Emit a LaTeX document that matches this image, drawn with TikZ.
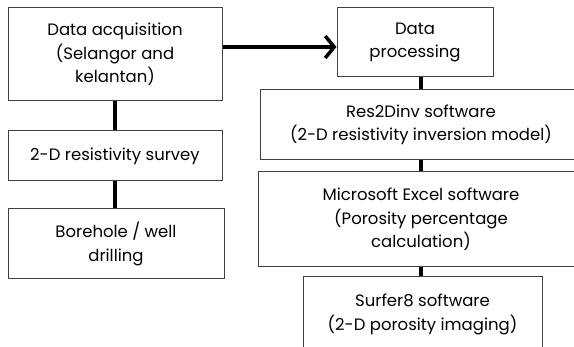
\documentclass[tikz,border=0pt]{standalone}
\usepackage{fontspec}
\setmainfont{Poppins}
\usetikzlibrary{arrows.meta}

\tikzset{
  box/.style={draw=black!75, line width=1pt, align=center, inner sep=0pt,
    font=\fontsize{16.5}{23.5}\selectfont},
  link/.style={line width=3.5pt},
}

\begin{document}
\begin{tikzpicture}[x=1pt,y=-1pt]
  \useasboundingbox (0,0) rectangle (574,347);
  \clip (0,0) rectangle (574,347);
  % left column
  \node[box,minimum width=214,minimum height=93] (acq) at (115,54.5)
    {Data acquisition\\(Selangor and\\kelantan)};
  \node[box,minimum width=214,minimum height=50] (survey) at (115,156)
    {2-D resistivity survey};
  \node[box,minimum width=216,minimum height=70] (bore) at (116,244)
    {Borehole / well\\drilling};
  % right column
  \node[box,minimum width=156,minimum height=69] (proc) at (415,42.5)
    {Data\\processing};
  \node[box,minimum width=322,minimum height=70] (res) at (421,125)
    {Res2Dinv software\\(2-D resistivity inversion model)};
  \node[box,minimum width=326,minimum height=95] (excel) at (421,219.5)
    {Microsoft Excel software\\(Porosity percentage\\calculation)};
  \node[box,minimum width=239,minimum height=75] (surf) at (422.5,314.5)
    {Surfer8 software\\(2-D porosity imaging)};
  % links
  \coordinate (arr) at (0,47);
  \draw[link,-{Straight Barb[length=9pt,width=22pt]}] (acq.east |- arr) -- (proc.west |- arr);
  \draw[link] (acq.south) -- (survey.north);
  \draw[link] (survey.south) -- (survey.south |- bore.north);
  \draw[link] (res.north) -- (res.north |- proc.south);
  \draw[link] (res.south) -- (excel.north);
  \draw[link] (excel.south) -- (excel.south |- surf.north);
\end{tikzpicture}
\end{document}
